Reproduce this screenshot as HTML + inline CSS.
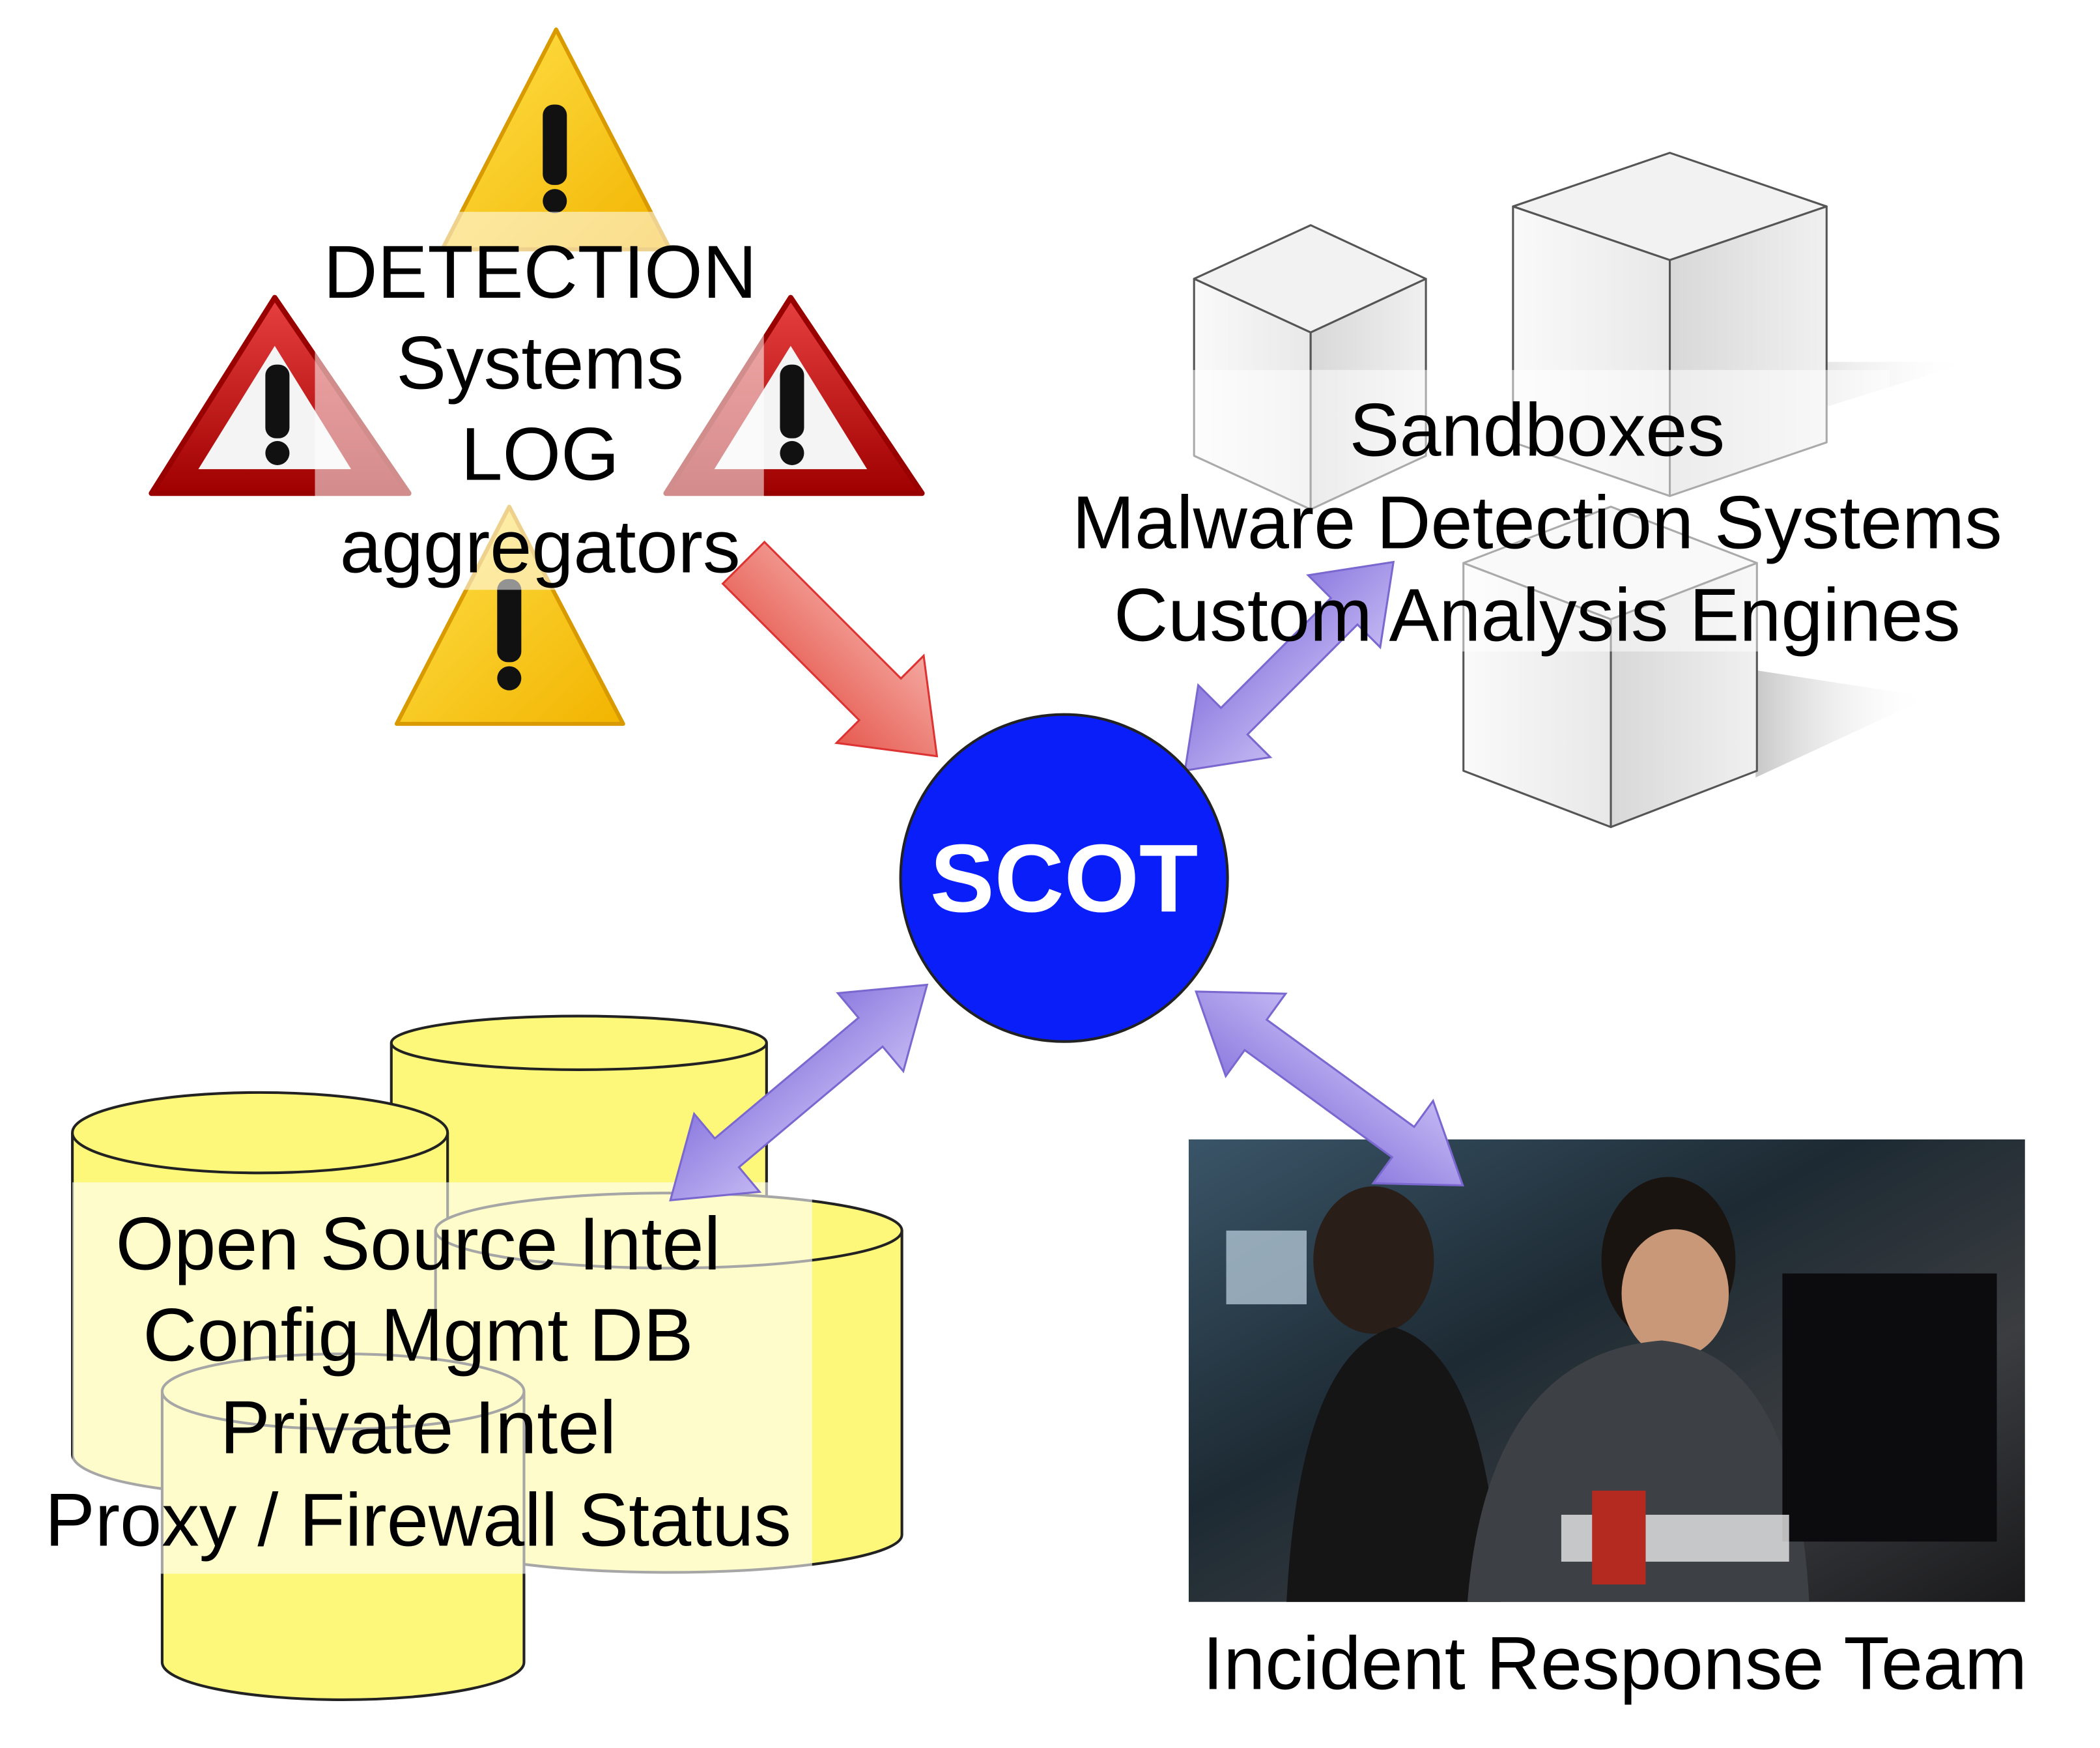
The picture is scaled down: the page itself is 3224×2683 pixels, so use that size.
<!DOCTYPE html>
<html><head><meta charset="utf-8"><style>html,body{margin:0;padding:0;background:#fff}svg{display:block}</style></head>
<body>
<svg width="3224" height="2683" viewBox="0 0 1567 1304" preserveAspectRatio="none" xmlns="http://www.w3.org/2000/svg" font-family="Liberation Sans, sans-serif">
<defs>
<linearGradient id="yel" x1="0" y1="0" x2="1" y2="1"><stop offset="0" stop-color="#ffe14a"/><stop offset="1" stop-color="#f2b400"/></linearGradient>
<linearGradient id="red" x1="0" y1="0" x2="0" y2="1"><stop offset="0" stop-color="#e84040"/><stop offset="1" stop-color="#a00000"/></linearGradient>
<linearGradient id="cubeL" x1="0" y1="0" x2="1" y2="0"><stop offset="0" stop-color="#fafafa"/><stop offset="1" stop-color="#e8e8e8"/></linearGradient>
<linearGradient id="cubeR" x1="0" y1="0" x2="1" y2="0"><stop offset="0" stop-color="#d8d8d8"/><stop offset="1" stop-color="#f0f0f0"/></linearGradient>
<linearGradient id="shadow" x1="0" y1="0" x2="1" y2="0"><stop offset="0" stop-color="#c8c8c8"/><stop offset="1" stop-color="#fff" stop-opacity="0"/></linearGradient>
<linearGradient id="photo" x1="0" y1="0" x2="1" y2="1"><stop offset="0" stop-color="#3a5568"/><stop offset="0.4" stop-color="#1d2a33"/><stop offset="0.7" stop-color="#3b3d40"/><stop offset="1" stop-color="#1a1a1c"/></linearGradient>
<linearGradient id="purp" x1="0" y1="0" x2="0" y2="1"><stop offset="0" stop-color="#c2b6f2"/><stop offset="1" stop-color="#8f7de0"/></linearGradient>
<linearGradient id="redarr" x1="0" y1="0" x2="0" y2="1"><stop offset="0" stop-color="#f4a8a0"/><stop offset="1" stop-color="#e65a50"/></linearGradient>
</defs>

<polygon points="415,22 330,186 500,186" fill="url(#yel)" stroke="#d99a00" stroke-width="3" stroke-linejoin="round"/>
<rect x="405" y="78" width="18" height="60" rx="8" fill="#111"/><circle cx="414" cy="150" r="9" fill="#111"/>
<polygon points="205,222 113,368 305,368" fill="url(#red)" stroke="#900" stroke-width="4" stroke-linejoin="round"/>
<polygon points="205,258 148,350 262,350" fill="#f4f4f4"/>
<rect x="198" y="272" width="18" height="55" rx="8" fill="#111"/><circle cx="207" cy="338" r="9" fill="#111"/>
<polygon points="590,222 497,368 688,368" fill="url(#red)" stroke="#900" stroke-width="4" stroke-linejoin="round"/>
<polygon points="590,258 533,350 647,350" fill="#f4f4f4"/>
<rect x="582" y="272" width="18" height="55" rx="8" fill="#111"/><circle cx="591" cy="338" r="9" fill="#111"/>
<polygon points="380,378 296,540 465,540" fill="url(#yel)" stroke="#d99a00" stroke-width="3" stroke-linejoin="round"/>
<rect x="371" y="432" width="18" height="62" rx="8" fill="#111"/><circle cx="380" cy="506" r="9" fill="#111"/>
<rect x="235" y="158" width="335" height="282" fill="#fff" opacity="0.55"/>
<g font-size="56" text-anchor="middle" fill="#000">
<text x="403" y="222">DETECTION</text><text x="403" y="290">Systems</text><text x="403" y="358">LOG</text><text x="403" y="427">aggregators</text>
</g>

<polygon points="1310,270 1470,270 1310,320" fill="url(#shadow)"/>
<polygon points="1310,500 1440,520 1310,580" fill="url(#shadow)"/>
<g stroke="#555" stroke-width="1.5" stroke-linejoin="round">
<polygon points="891,208 978,168 1064,208 978,248" fill="#f2f2f2"/>
<polygon points="891,208 978,248 978,380 891,340" fill="url(#cubeL)"/>
<polygon points="978,248 1064,208 1064,340 978,380" fill="url(#cubeR)"/>
<polygon points="1129,154 1246,114 1363,154 1246,194" fill="#f2f2f2"/>
<polygon points="1129,154 1246,194 1246,370 1129,330" fill="url(#cubeL)"/>
<polygon points="1246,194 1363,154 1363,330 1246,370" fill="url(#cubeR)"/>
<polygon points="1092,420 1202,378 1311,420 1202,462" fill="#f2f2f2"/>
<polygon points="1092,420 1202,462 1202,617 1092,575" fill="url(#cubeL)"/>
<polygon points="1202,462 1311,420 1311,575 1202,617" fill="url(#cubeR)"/>
</g>
<rect x="890" y="276" width="520" height="210" fill="#fff" opacity="0.5"/>

<g fill="#fdf87a" stroke="#222" stroke-width="2">
<path d="M292,778 L292,960 A140,20 0 0 0 572,960 L572,778"/><ellipse cx="432" cy="778" rx="140" ry="20"/>
<path d="M54,845 L54,1085 A140,30 0 0 0 334,1085 L334,845"/><ellipse cx="194" cy="845" rx="140" ry="30"/>
<path d="M325,918 L325,1145 A174,28 0 0 0 673,1145 L673,918"/><ellipse cx="499" cy="918" rx="174" ry="28"/>
<path d="M121,1038 L121,1240 A135,28 0 0 0 391,1240 L391,1038"/><ellipse cx="256" cy="1038" rx="135" ry="28"/>
</g>
<rect x="54" y="882" width="552" height="292" fill="#fff" opacity="0.6"/>

<rect x="887" y="850" width="624" height="345" fill="url(#photo)"/>
<rect x="915" y="918" width="60" height="55" fill="#c0d4e4" opacity="0.7"/>
<ellipse cx="1025" cy="940" rx="45" ry="55" fill="#2a1e18"/>
<path d="M960,1195 Q970,1010 1040,990 Q1110,1010 1120,1195Z" fill="#151515"/>
<ellipse cx="1245" cy="940" rx="50" ry="62" fill="#1a1410"/>
<ellipse cx="1250" cy="965" rx="40" ry="48" fill="#c89878"/>
<path d="M1095,1195 Q1110,1010 1240,1000 Q1340,1010 1350,1195Z" fill="#3d4145"/>
<rect x="1330" y="950" width="160" height="200" fill="#0c0c0e"/>
<rect x="1165" y="1130" width="170" height="35" fill="#e8e8e8" opacity="0.8"/>
<rect x="1188" y="1112" width="40" height="70" fill="#b52a20"/>

<g transform="translate(627,492) rotate(45)">
<polygon points="102,0 42,-46 42,-22 -102,-22 -102,22 42,22 42,46" fill="url(#redarr)" stroke="#d33" stroke-width="1.5"/>
</g>
<g fill="url(#purp)" stroke="#7a68d0" stroke-width="1.5">
<g transform="translate(962,497) rotate(135)"><polygon points="-110,0 -58,-38 -58,-14 58,-14 58,-38 110,0 58,38 58,14 -58,14 -58,38"/></g>
<g transform="translate(596,815) rotate(140)"><polygon points="-125,0 -70,-38 -70,-14 70,-14 70,-38 125,0 70,38 70,14 -70,14 -70,38"/></g>
<g transform="translate(992,812) rotate(36)"><polygon points="-123,0 -68,-38 -68,-14 68,-14 68,-38 123,0 68,38 68,14 -68,14 -68,38"/></g>
</g>

<g font-size="56" text-anchor="middle" fill="#000">
<text x="1147" y="340">Sandboxes</text><text x="1147" y="409">Malware Detection Systems</text><text x="1147" y="478">Custom Analysis Engines</text>
<text x="312" y="947">Open Source Intel</text><text x="312" y="1015">Config Mgmt DB</text><text x="312" y="1084">Private Intel</text><text x="312" y="1153">Proxy / Firewall Status</text>
<text x="1205" y="1260">Incident Response Team</text>
</g>

<circle cx="794" cy="655" r="122" fill="#0a1efa" stroke="#222" stroke-width="2"/>
<text x="794" y="680" font-size="72" font-weight="bold" fill="#fff" text-anchor="middle">SCOT</text>
</svg>
</body></html>
